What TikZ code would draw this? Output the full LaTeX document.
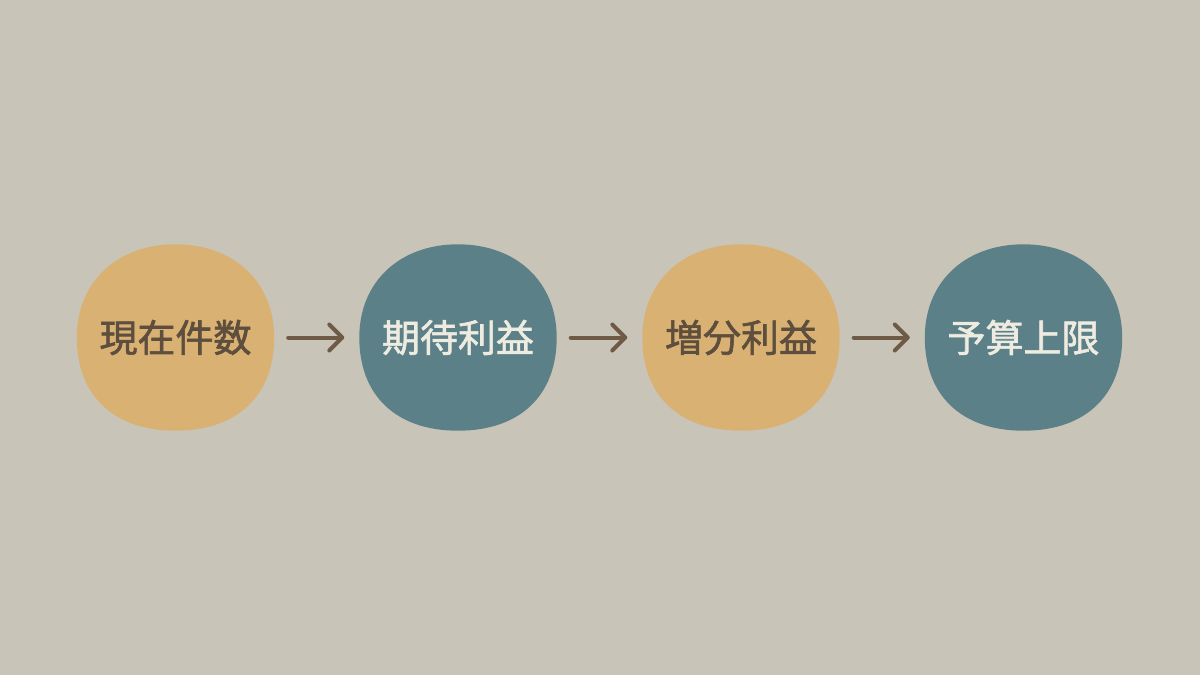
\documentclass[tikz,border=0pt]{standalone}
\usepackage{fontspec}
\newfontfamily\cjk{Noto Sans CJK JP}[FakeBold=1.6]
\usetikzlibrary{arrows.meta}
\definecolor{bg}{HTML}{C8C4B8}
\definecolor{ochre}{HTML}{D9B273}
\definecolor{teal}{HTML}{5B8087}
\definecolor{darktxt}{HTML}{5E4E3E}
\definecolor{lighttxt}{HTML}{EEEBE0}
\definecolor{arrowc}{HTML}{6E5A45}
\tikzset{
  x=1pt, y=-1pt,
  stage/.style={minimum width=197pt, minimum height=186pt, inner sep=0pt,
    font=\cjk\fontsize{38}{42}\selectfont},
  warm/.style={stage, text=darktxt},
  cool/.style={stage, text=lighttxt},
  flow/.style={draw=arrowc, line width=4pt, line cap=round,
    -{Straight Barb[length=13pt,width=26pt,line width=4pt,round]},
    shorten <=14pt, shorten >=15pt}
}
\newcommand{\blobshape}[2]{%
  \fill[#2] (#1.east) .. controls ([yshift=56pt]#1.east) and ([xshift=58pt]#1.north) .. (#1.north)
    .. controls ([xshift=-58pt]#1.north) and ([yshift=56pt]#1.west) .. (#1.west)
    .. controls ([yshift=-58pt]#1.west) and ([xshift=-62pt]#1.south) .. (#1.south)
    .. controls ([xshift=62pt]#1.south) and ([yshift=-58pt]#1.east) .. cycle;}
\begin{document}
\begin{tikzpicture}
\fill[bg] (0,0) rectangle (1200,675);
\useasboundingbox (0,0) rectangle (1200,675);
\node[warm] (a) at (175.5,337.5) {};
\node[cool] (b) at (458,337.5) {};
\node[warm] (c) at (741,337.5) {};
\node[cool] (d) at (1023.5,337.5) {};
\blobshape{a}{ochre}
\blobshape{b}{teal}
\blobshape{c}{ochre}
\blobshape{d}{teal}
\node[warm] at (a) {現在件数};
\node[cool] at (b) {期待利益};
\node[warm] at (c) {増分利益};
\node[cool] at (d) {予算上限};
\draw[flow] (a.east) -- (b.west);
\draw[flow] (b.east) -- (c.west);
\draw[flow] (c.east) -- (d.west);
\end{tikzpicture}
\end{document}
